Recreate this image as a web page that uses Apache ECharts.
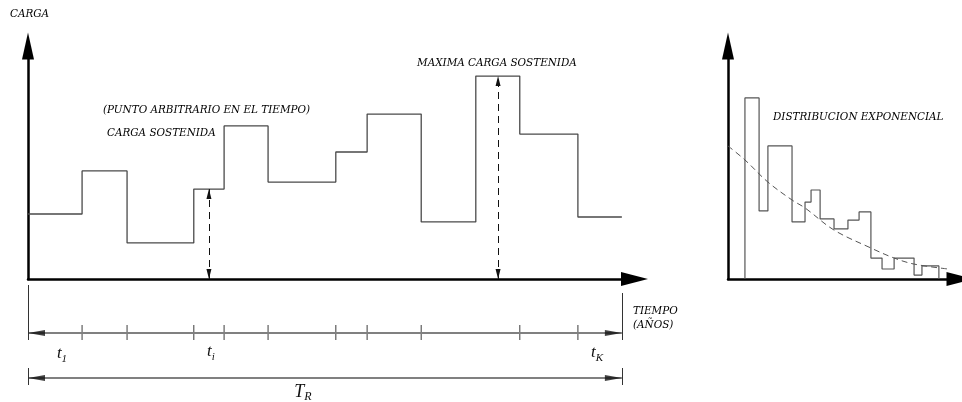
<!DOCTYPE html>
<html>
<head>
<meta charset="utf-8">
<script src="https://cdn.jsdelivr.net/npm/echarts@6/dist/echarts.min.js"></script>
<style>
html,body{margin:0;padding:0;background:#fff;}
#chart{width:962px;height:402px;}
</style>
</head>
<body>
<div id="chart"></div>
<script>
// ---- Data ----
// Sustained-load history: change times (time units) and load levels (% of axis)
const loadTimes  = [0, 10.7, 19.6, 32.8, 38.8, 47.5, 60.9, 67.1, 77.8, 88.6, 97.3, 108.8, 117.5];
const loadLevels = [27.9, 46.4, 15.5, 38.6, 65.7, 41.6, 54.5, 70.8, 24.5, 87.1, 62.2, 26.6];
// Timeline tick marks (segment boundaries shown on the time scale)
const tickTimes = [10.7, 19.6, 32.8, 38.8, 47.5, 60.9, 67.1, 77.8, 97.3, 108.8];
// Arbitrary point in time and time of maximum sustained load
const arbitraryTime = 35.8, arbitraryLoad = 38.6;
const maxTime = 93.0, maxLoad = 87.1;
// Histogram of sustained load (bin edges and heights)
const histEdges   = [0.73, 1.34, 1.72, 2.76, 3.32, 3.58, 3.97, 4.57, 5.17, 5.65, 6.16, 6.64, 7.16, 8.02, 8.36, 9.09];
const histHeights = [77.7, 29.2, 57.1, 24.5, 33.0, 38.2, 25.8, 21.5, 25.3, 28.8, 9.0, 4.3, 9.0, 1.7, 5.6];
// Fitted exponential distribution (dashed)
const expX = [0, 0.73, 1.72, 2.76, 3.32, 4.57, 6.16, 7.16, 8.02, 9.48];
const expY = [57.1, 51.1, 41.6, 33.9, 30.5, 21.0, 13.3, 9.0, 6.4, 4.3];
// Text
const labels = {
  yName: 'CARGA',
  arbitrary1: '(PUNTO ARBITRARIO EN EL TIEMPO)',
  arbitrary2: 'CARGA SOSTENIDA',
  maxLabel: 'MAXIMA CARGA SOSTENIDA',
  dist: 'DISTRIBUCION EXPONENCIAL',
  xName1: 'TIEMPO',
  xName2: '(AÑOS)'
};

// ---- Build series data ----
const stepData = loadLevels.map((v, i) => [loadTimes[i], v]);
stepData.push([loadTimes[loadTimes.length - 1], loadLevels[loadLevels.length - 1]]);

const histData = [[histEdges[0], 0]];
histHeights.forEach((h, i) => histData.push([histEdges[i], h]));
histData.push([histEdges[histEdges.length - 1], 0]);

const expData = expX.map((x, i) => [x, expY[i]]);

const tEnd = loadTimes[loadTimes.length - 1];
// rows of the time scale area (layout rows, in px from its top)
const row1 = 53, row2 = 98;

const chart = echarts.init(document.getElementById('chart'), null, {renderer: 'canvas'});

const axisStyle = (arrow) => ({
  show: true,
  onZero: false,
  symbol: ['none', 'triangle'],
  symbolSize: arrow,
  lineStyle: {color: '#000', width: 2.5}
});
const hidden = {axisTick: {show: false}, axisLabel: {show: false}, splitLine: {show: false}};

const txtFont = 'italic 10.4px "DejaVu Serif"';
const txt = (x, y, text, align) => ({
  type: 'text', x: x, y: y, silent: true,
  style: {text: text, font: txtFont, fill: '#000', align: align || 'left', verticalAlign: 'middle'}
});
const mathTxt = (x, y, base, sub, size) => ({
  type: 'text', x: x, y: y, silent: true,
  style: {
    text: '{b|' + base + '}{s|' + sub + '}', align: 'center', verticalAlign: 'middle',
    rich: {
      b: {fontFamily: 'Liberation Serif', fontStyle: 'italic', fontSize: size, fill: '#111', lineHeight: size + 4, verticalAlign: 'bottom'},
      s: {fontFamily: 'Liberation Serif', fontStyle: 'italic', fontSize: Math.round(size * 0.65), fill: '#111', verticalAlign: 'bottom', padding: [0, 0, -2, 0]}
    }
  }
});
const endBar = (t, a, b) => [{coord: [t, a]}, {coord: [t, b]}];
const arrowHead = (t, row, left) => ({
  value: [t, row],
  symbolRotate: left ? 90 : -90,
  symbolOffset: [left ? 8.5 : -8.5, 0]
});

const option = {
  animation: false,
  backgroundColor: '#fff',
  grid: [
    {left: 28, top: 46, width: 606.5, height: 233},
    {left: 28, top: 280, width: 606.5, height: 112},
    {left: 728, top: 46, width: 232, height: 233}
  ],
  xAxis: [
    Object.assign({gridIndex: 0, type: 'value', min: 0, max: 120, axisLine: axisStyle([14, 27])}, hidden),
    {gridIndex: 1, type: 'value', min: 0, max: 120, show: false},
    Object.assign({gridIndex: 2, type: 'value', min: 0, max: 10, axisLine: axisStyle([14, 27])}, hidden)
  ],
  yAxis: [
    Object.assign({gridIndex: 0, type: 'value', min: 0, max: 100, axisLine: axisStyle([12, 27])}, hidden),
    {gridIndex: 1, type: 'value', min: 0, max: 112, inverse: true, show: false},
    Object.assign({gridIndex: 2, type: 'value', min: 0, max: 100, axisLine: axisStyle([12, 27])}, hidden)
  ],
  series: [
    {
      type: 'line', xAxisIndex: 0, yAxisIndex: 0, step: 'end', symbol: 'none',
      data: stepData,
      lineStyle: {color: '#4a4a4a', width: 1.3},
      markLine: {
        silent: true,
        symbol: ['triangle', 'triangle'],
        symbolSize: [5, 10],
        symbolOffset: [[0, 5], [0, 5]],
        label: {show: false},
        lineStyle: {color: '#111', width: 1, type: [7, 5]},
        data: [
          [{coord: [arbitraryTime, 0]}, {coord: [arbitraryTime, arbitraryLoad]}],
          [{coord: [maxTime, 0]}, {coord: [maxTime, maxLoad]}]
        ]
      }
    },
    {
      // time scale lines and end bars
      type: 'scatter', xAxisIndex: 1, yAxisIndex: 1,
      symbol: 'rect', symbolSize: [1.2, 15],
      itemStyle: {color: '#333'},
      data: tickTimes.map(t => [t, row1 - 0.5]),
      markLine: {
        silent: true,
        symbol: 'none',
        label: {show: false},
        data: [
          [{coord: [0, row1], lineStyle: {color: '#808080', width: 1.8, type: 'solid'}}, {coord: [tEnd, row1]}],
          [{coord: [0, row2], lineStyle: {color: '#808080', width: 1.8, type: 'solid'}}, {coord: [tEnd, row2]}],
          endBar(0, 5, 60), endBar(tEnd, 13, 60), endBar(0, 88, 105), endBar(tEnd, 88, 105)
        ],
        lineStyle: {color: '#333', width: 1, type: 'solid'}
      }
    },
    {
      // arrow heads of the time scales
      type: 'scatter', xAxisIndex: 1, yAxisIndex: 1,
      symbol: 'triangle', symbolSize: [6, 17],
      itemStyle: {color: '#111'},
      z: 5,
      data: [arrowHead(0, row1, true), arrowHead(tEnd, row1, false), arrowHead(0, row2, true), arrowHead(tEnd, row2, false)]
    },
    {
      type: 'line', xAxisIndex: 2, yAxisIndex: 2, step: 'end', symbol: 'none',
      data: histData,
      lineStyle: {color: '#555', width: 1.2}
    },
    {
      type: 'line', xAxisIndex: 2, yAxisIndex: 2, smooth: 0.35, symbol: 'none',
      data: expData,
      lineStyle: {color: '#555', width: 1, type: [6, 4]}
    }
  ],
  graphic: [
    txt(10, 14, labels.yName),
    txt(103, 110, labels.arbitrary1),
    txt(107, 133.5, labels.arbitrary2),
    txt(417, 63, labels.maxLabel),
    txt(773, 117, labels.dist),
    txt(633, 311.5, labels.xName1),
    txt(633, 325, labels.xName2),
    mathTxt(62, 352, 't', '1', 17),
    mathTxt(211, 350, 't', 'i', 17),
    mathTxt(597, 351, 't', 'K', 17),
    mathTxt(303, 390, 'T', 'R', 18)
  ]
};
chart.setOption(option);
</script>
</body>
</html>
